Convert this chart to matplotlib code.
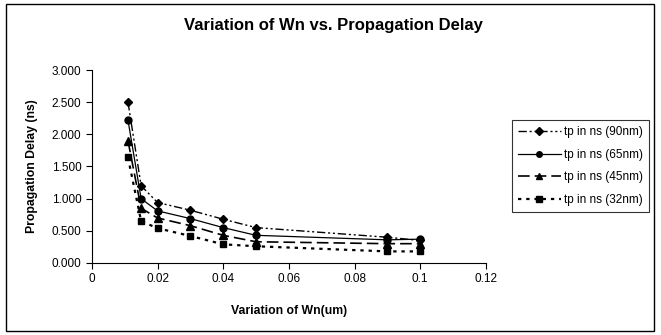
import matplotlib.pyplot as plt
from matplotlib.patches import Rectangle

plt.rcParams['font.family'] = ['Liberation Sans', 'DejaVu Sans']

# data
wn = [0.011, 0.015, 0.02, 0.03, 0.04, 0.05, 0.09, 0.1]
tp_90 = [2.50, 1.20, 0.94, 0.82, 0.68, 0.55, 0.40, 0.35]
tp_65 = [2.22, 1.00, 0.81, 0.69, 0.55, 0.43, 0.36, 0.37]
tp_45 = [1.90, 0.85, 0.70, 0.58, 0.43, 0.33, 0.30, 0.30]
tp_32 = [1.64, 0.65, 0.54, 0.42, 0.29, 0.26, 0.18, 0.18]
labels = ['tp in ns (90nm)', 'tp in ns (65nm)', 'tp in ns (45nm)', 'tp in ns (32nm)']
xticks = [0, 0.02, 0.04, 0.06, 0.08, 0.1, 0.12]
yticks = [0.0, 0.5, 1.0, 1.5, 2.0, 2.5, 3.0]

fig = plt.figure(figsize=(6.61, 3.35), dpi=100)
ax = fig.add_axes([0.139, 0.215, 0.596, 0.576])

styles = [
    dict(ls=(0, (6, 2, 1.5, 2, 1.5, 2)), marker='D', ms=4.5, lw=1.0),
    dict(ls='-', marker='o', ms=5, lw=0.9),
    dict(ls=(0, (7, 3)), marker='^', ms=5.5, lw=1.2),
    dict(ls=(0, (1.5, 2.2)), marker='s', ms=5, lw=1.6),
]
for y, lab, st in zip([tp_90, tp_65, tp_45, tp_32], labels, styles):
    ax.plot(wn, y, color='black', label=lab, **st)

ax.set_xlim(0, 0.12)
ax.set_ylim(0, 3.0)
ax.set_xticks(xticks)
ax.set_xticklabels(['0' if t == 0 else f'{t:g}' for t in xticks])
ax.set_yticks(yticks)
ax.set_yticklabels([f'{t:.3f}' for t in yticks])
ax.tick_params(labelsize=8.5, length=4, width=0.8, direction='out')
for s in ['top', 'right']:
    ax.spines[s].set_visible(False)
for s in ['left', 'bottom']:
    ax.spines[s].set_linewidth(0.8)

ax.set_xlabel('Variation of Wn(um)', fontsize=8.8, fontweight='bold', labelpad=14)
ax.set_ylabel('Propagation Delay (ns)', fontsize=8.8, fontweight='bold', labelpad=10)
fig.text(0.505, 0.925, 'Variation of Wn vs. Propagation Delay', ha='center', va='center',
         fontsize=12, fontweight='bold')

leg = ax.legend(loc='center left', bbox_to_anchor=(0.775, 0.504), bbox_transform=fig.transFigure,
                fontsize=8.5, frameon=True, fancybox=False, edgecolor='black',
                handlelength=3.6, handletextpad=0.25, borderpad=0.5, labelspacing=0.9,
                borderaxespad=0, markerscale=0.8)
leg.get_frame().set_linewidth(0.8)

fig.patches.append(Rectangle((0.009, 0.012), 0.981, 0.976, transform=fig.transFigure,
                             fill=False, edgecolor='black', linewidth=1.0))

fig.savefig('out.png', dpi=100)
